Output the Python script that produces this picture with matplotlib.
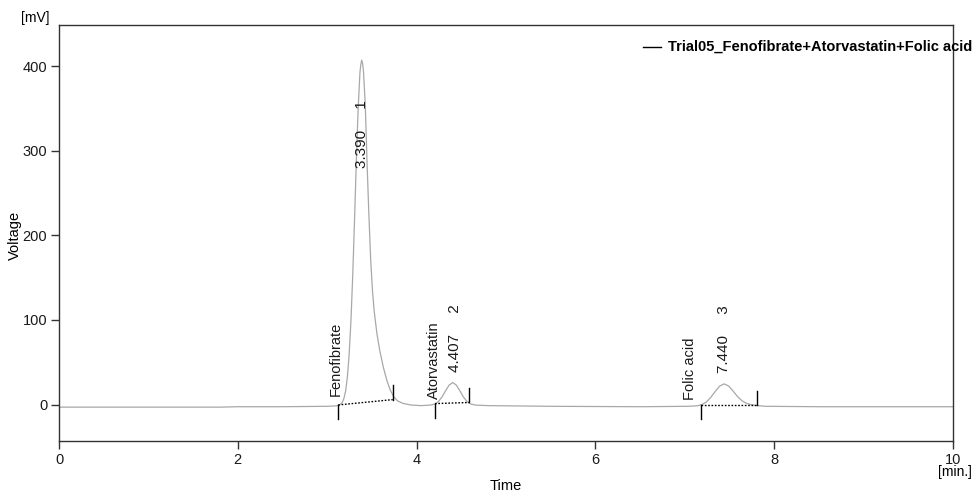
import matplotlib
matplotlib.use("Agg")
import matplotlib.pyplot as plt
from matplotlib.lines import Line2D

plt.rcParams['font.family'] = ['Liberation Sans', 'DejaVu Sans']

# chromatogram trace (time [min], voltage [mV])
time = [0.0, 1.0, 1.8, 2.0, 2.5, 3.0, 3.10, 3.136, 3.166, 3.186, 3.206, 3.226, 3.246,
        3.266, 3.286, 3.306, 3.326, 3.346, 3.366, 3.376, 3.386, 3.396, 3.406, 3.426,
        3.446, 3.466, 3.486, 3.506, 3.526, 3.556, 3.586, 3.626, 3.666, 3.706, 3.746,
        3.786, 3.846, 3.936, 4.05, 4.15, 4.204, 4.244, 4.284, 4.324, 4.364, 4.404,
        4.444, 4.484, 4.524, 4.564, 4.604, 4.66, 4.8, 5.5, 6.5, 7.04, 7.14, 7.19,
        7.24, 7.29, 7.34, 7.39, 7.44, 7.49, 7.54, 7.59, 7.64, 7.69, 7.74, 7.80,
        7.90, 8.5, 9.3, 10.0]
voltage = [-3.0, -3.0, -3.0, -2.5, -2.5, -2.0, -1.5, -0.5, 2.0, 7.0, 16.0, 33.0, 60.0,
           100.0, 154.0, 219.0, 288.0, 349.0, 392.0, 402.0, 407.0, 403.0, 393.0, 354.0,
           285.0, 225.0, 172.0, 135.0, 110.0, 84.0, 65.0, 45.0, 29.0, 17.0, 9.0,
           4.5, 1.5, -0.5, -1.2, -0.6, 0.7, 3.6, 9.0, 16.3, 23.1, 26.0,
           23.1, 16.3, 9.0, 3.6, 0.7, -0.6, -1.2, -2.0, -2.5, -2.0, -1.4, 0.0,
           3.0, 8.5, 15.5, 21.9, 24.5, 22.0, 16.0, 9.5, 4.5, 1.5, 0.0, -1.0,
           -2.0, -2.5, -2.5, -2.5]

# peak table
peak_names = ["Fenofibrate", "Atorvastatin", "Folic acid"]
peak_numbers = ["1", "2", "3"]
peak_rt_labels = ["3.390", "4.407", "7.440"]
rt_label_t = [3.390, 4.43, 7.44]
rt_label_bottom = [280.0, 38.0, 37.0]
name_label_t = [3.10, 4.19, 7.06]
name_label_bottom = [10.0, 7.0, 5.0]
# integration baselines (start/end time and level)
base_start_t = [3.124, 4.206, 7.177]
base_start_v = [-0.4, 1.2, -0.4]
base_end_t = [3.733, 4.589, 7.810]
base_end_v = [5.9, 2.5, -0.4]

x_ticks = [0, 2, 4, 6, 8, 10]
y_ticks = [0, 100, 200, 300, 400]
legend_label = "Trial05_Fenofibrate+Atorvastatin+Folic acid"

W, H = 977, 493
fig = plt.figure(figsize=(W / 100, H / 100), dpi=100)
ax = fig.add_axes([59 / W, 1 - 441 / H, (953 - 59) / W, (441 - 25) / H])

ax.plot(time, voltage, color='#a8a8a8', lw=0.9)

tick_len = 17.0
for i in range(len(peak_names)):
    ax.plot([base_start_t[i], base_end_t[i]], [base_start_v[i], base_end_v[i]],
            color='black', lw=1.0, ls=(0, (1.2, 1.2)))
    ax.plot([base_start_t[i], base_start_t[i]],
            [base_start_v[i], base_start_v[i] - tick_len], color='black', lw=1.0)
    ax.plot([base_end_t[i], base_end_t[i]],
            [base_end_v[i], base_end_v[i] + tick_len], color='black', lw=1.0)
    ax.text(rt_label_t[i], rt_label_bottom[i], peak_rt_labels[i] + "     " + peak_numbers[i],
            rotation=90, ha='center', va='bottom', fontsize=11, color='#1a1a1a')
    ax.text(name_label_t[i], name_label_bottom[i], peak_names[i],
            rotation=90, ha='center', va='bottom', fontsize=10.5, color='#1a1a1a')

ax.set_xlim(0, 10)
ax.set_ylim(-43.0, 448.5)
ax.set_xticks(x_ticks)
ax.set_yticks(y_ticks)
ax.set_xticklabels([str(v) for v in x_ticks])
ax.set_yticklabels([str(v) for v in y_ticks])
ax.tick_params(direction='out', length=6, width=1.0, labelsize=10.5, colors='#333333',
               labelcolor='#1a1a1a', pad=2.5)
for s in ax.spines.values():
    s.set_linewidth(1.0)
    s.set_color('#333333')

fig.text(15 / W, 1 - 235 / H, "Voltage", rotation=90, ha='center', va='center', fontsize=10.5)
fig.text(506 / W, 1 - 486 / H, "Time", ha='center', va='center', fontsize=10.5)
fig.text(35 / W, 1 - 18 / H, "[mV]", ha='center', va='center', fontsize=10)
fig.text(955 / W, 1 - 472 / H, "[min.]", ha='center', va='center', fontsize=10)

fig.add_artist(Line2D([643 / W, 661 / W], [1 - 47 / H, 1 - 47 / H], color='black', lw=1.0,
                      transform=fig.transFigure))
fig.text(668 / W, 1 - 47 / H, legend_label, ha='left', va='center', fontsize=10.5,
         fontweight='bold')

fig.savefig("out.png", dpi=100)
